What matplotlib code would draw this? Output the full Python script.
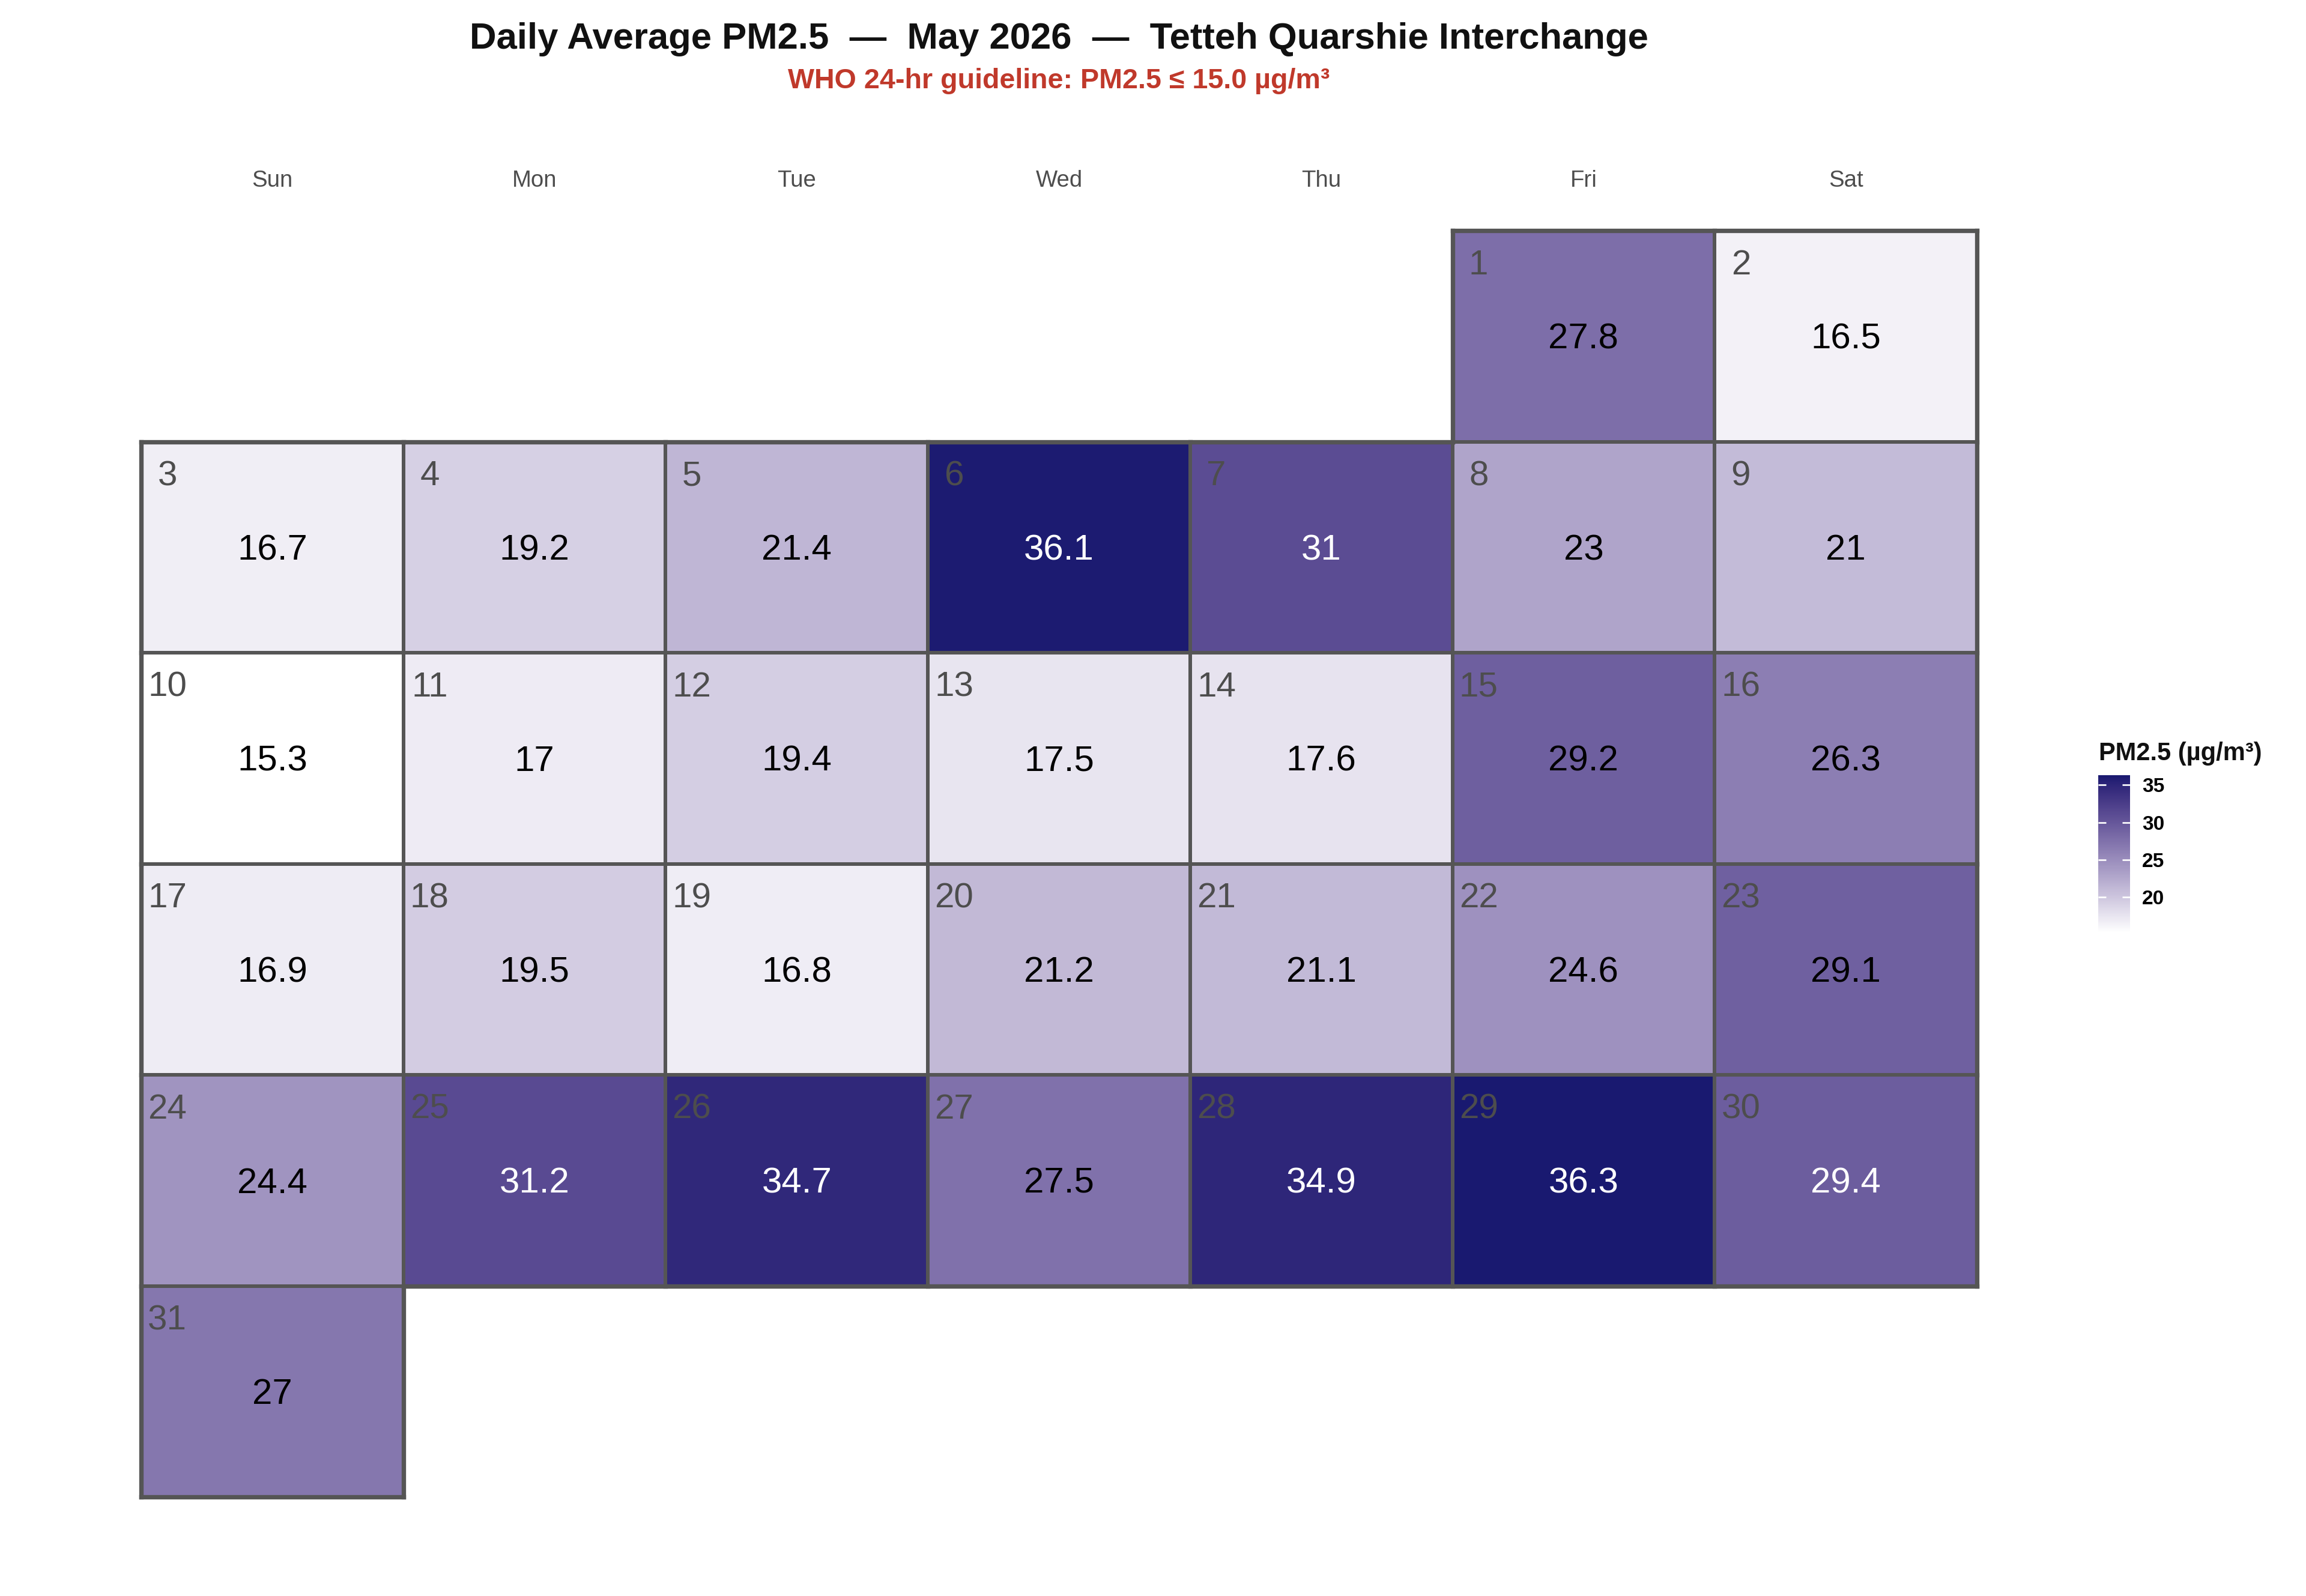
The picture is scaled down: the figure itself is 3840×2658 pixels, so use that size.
import matplotlib
matplotlib.use("Agg")
import matplotlib.pyplot as plt
import numpy as np
from matplotlib.colors import ListedColormap, Normalize
from matplotlib.patches import Rectangle

plt.rcParams['font.family'] = ['Liberation Sans', 'DejaVu Sans']

###########################
# Data
###########################
days = list(range(1, 32))
pm25 = [27.8, 16.5, 16.7, 19.2, 21.4, 36.1, 31.0, 23.0, 21.0, 15.3,
        17.0, 19.4, 17.5, 17.6, 29.2, 26.3, 16.9, 19.5, 16.8, 21.2,
        21.1, 24.6, 29.1, 24.4, 31.2, 34.7, 27.5, 34.9, 36.3, 29.4, 27.0]
weekdays = ["Sun", "Mon", "Tue", "Wed", "Thu", "Fri", "Sat"]
first_weekday = 5  # 1 May 2026 is a Friday
cbar_ticks = [20, 25, 30, 35]
title = "Daily Average PM2.5  —  May 2026  —  Tetteh Quarshie Interchange"
subtitle = "WHO 24-hr guideline: PM2.5 ≤ 15.0 µg/m³"
white_text_above = 29.3


###########################
# Colour scale: white -> midnightblue, interpolated in CIELAB
###########################
def srgb_to_lab(rgb):
    rgb = np.asarray(rgb, float)
    c = np.where(rgb <= 0.04045, rgb / 12.92, ((rgb + 0.055) / 1.055) ** 2.4)
    M = np.array([[0.4124, 0.3576, 0.1805], [0.2126, 0.7152, 0.0722], [0.0193, 0.1192, 0.9505]])
    xyz = c @ M.T / np.array([0.95047, 1.0, 1.08883])
    f = np.where(xyz > 0.008856, np.cbrt(xyz), 7.787 * xyz + 16 / 116)
    return np.stack([116 * f[..., 1] - 16, 500 * (f[..., 0] - f[..., 1]), 200 * (f[..., 1] - f[..., 2])], -1)


def lab_to_srgb(lab):
    L, a, b = lab[..., 0], lab[..., 1], lab[..., 2]
    fy = (L + 16) / 116
    f = np.stack([fy + a / 500, fy, fy - b / 200], -1)
    xyz = np.where(f ** 3 > 0.008856, f ** 3, (f - 16 / 116) / 7.787) * np.array([0.95047, 1.0, 1.08883])
    Minv = np.array([[3.2406, -1.5372, -0.4986], [-0.9689, 1.8758, 0.0415], [0.0557, -0.2040, 1.0570]])
    c = xyz @ Minv.T
    c = np.where(c <= 0.0031308, 12.92 * c, 1.055 * np.clip(c, 0, None) ** (1 / 2.4) - 0.055)
    return np.clip(c, 0, 1)


lo, hi = srgb_to_lab([1.0, 1.0, 1.0]), srgb_to_lab(matplotlib.colors.to_rgb("midnightblue"))
t = np.linspace(0, 1, 256)[:, None]
cmap = ListedColormap(lab_to_srgb(lo + t * (hi - lo)))
norm = Normalize(min(pm25), max(pm25))

###########################
# Figure
###########################
fig = plt.figure(figsize=(16, 2658 / 240), dpi=240)
ax = fig.add_axes([235 / 3840, 1 - 2493 / 2658, 3057 / 3840, 2109 / 2658])
ax.set_xlim(0, 7)
ax.set_ylim(6, 0)
ax.axis("off")

edge = "#555555"
pos = {}
for d, v in zip(days, pm25):
    col = (first_weekday + d - 1) % 7
    row = (first_weekday + d - 1) // 7
    pos[(col, row)] = d
    ax.add_patch(Rectangle((col, row), 1, 1, facecolor=cmap(norm(v)), edgecolor=edge, lw=1.8, zorder=1))
    ax.text(col + 0.1, row + 0.165, str(d), ha="center", va="center", fontsize=17.5, color="#4d4d4d", zorder=3)
    ax.text(col + 0.5, row + 0.515, "%g" % v, ha="center", va="center", fontsize=18,
            color="white" if v > white_text_above else "black", zorder=3)

# slightly heavier outline round the month block
for (col, row) in pos:
    sides = [((col - 1, row), [col, col], [row, row + 1]),
             ((col + 1, row), [col + 1, col + 1], [row, row + 1]),
             ((col, row - 1), [col, col + 1], [row, row]),
             ((col, row + 1), [col, col + 1], [row + 1, row + 1])]
    for nb, xs, ys in sides:
        if nb not in pos:
            ax.plot(xs, ys, color=edge, lw=2.2, solid_capstyle="projecting", zorder=2, clip_on=False)

for i, name in enumerate(weekdays):
    ax.text(i + 0.5, -0.235, name, ha="center", va="center", fontsize=11.5, color="#4d4d4d")

fig.text(1763 / 3840, 1 - 66 / 2658, title, ha="center", va="center", fontsize=18.5, fontweight="bold",
         color="#111111")
fig.text(1763 / 3840, 1 - 135 / 2658, subtitle, ha="center", va="center", fontsize=14, fontweight="bold",
         color="#C0392B")

# colour bar
cax = fig.add_axes([3494 / 3840, 1 - 1553 / 2658, 53 / 3840, 262 / 2658])
sm = plt.cm.ScalarMappable(norm=norm, cmap=cmap)
cb = fig.colorbar(sm, cax=cax, ticks=cbar_ticks)
cb.outline.set_visible(False)
cax.tick_params(direction="in", color="white", length=4, width=0.8, left=True, right=True,
                labelsize=10, pad=6)
for lab in cax.get_yticklabels():
    lab.set_fontweight("bold")
fig.text(3495 / 3840, 1 - 1255 / 2658, "PM2.5 (µg/m³)", ha="left", va="center", fontsize=12.5,
         fontweight="bold", color="#111111")

fig.savefig("out.png", dpi=240, facecolor="white")
